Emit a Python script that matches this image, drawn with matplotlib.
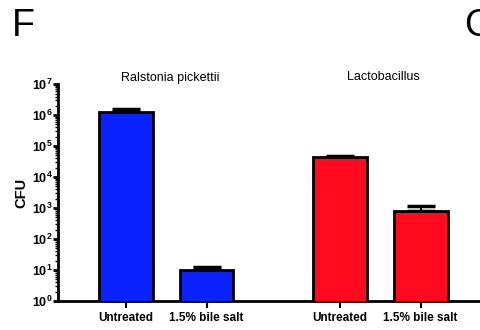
import numpy as np
import matplotlib
matplotlib.use("Agg")
import matplotlib.pyplot as plt
from matplotlib.ticker import LogLocator, FixedLocator, FuncFormatter

plt.rcParams["font.family"] = ["Liberation Sans", "DejaVu Sans"]
plt.rcParams["mathtext.fontset"] = "custom"
plt.rcParams["mathtext.rm"] = "Liberation Sans"
plt.rcParams["mathtext.bf"] = "Liberation Sans:bold"

# CFU counts per condition
groups = ["Ralstonia pickettii", "Lactobacillus"]
conditions = ["Untreated", "1.5% bile salt", "Untreated", "1.5% bile salt"]
cfu_mean = [1.25e6, 10, 4.4e4, 800]
cfu_err = [0.35e6, 2.5, 0.5e4, 350]
bar_colors = ["#0a22ff", "#0a22ff", "#ff0a1e", "#ff0a1e"]

positions = [0, 1, 2.66, 3.66]

fig = plt.figure(figsize=(4.81, 3.30), dpi=100)
ax = fig.add_axes([0.1206, 0.0879, 0.8794, 0.657])

ax.bar(positions, cfu_mean, width=0.67, color=bar_colors,
       edgecolor="black", linewidth=2, zorder=3)
ax.errorbar(positions, cfu_mean, yerr=[np.zeros(4), cfu_err], fmt="none",
            ecolor="black", elinewidth=1.5, capsize=10, capthick=2.5, zorder=2)

ax.set_yscale("log")
ax.set_ylim(1, 1e7)
ax.set_xlim(-0.845, 4.41)
ax.yaxis.set_major_locator(LogLocator(base=10, numticks=10))
ax.yaxis.set_minor_locator(LogLocator(base=10, subs=np.arange(2, 10), numticks=10))
ax.yaxis.set_major_formatter(
    FuncFormatter(lambda v, p: r"$\mathbf{10^{%d}}$" % round(np.log10(v))))
ax.xaxis.set_major_locator(FixedLocator(positions))
ax.set_xticklabels(conditions, fontweight="bold", fontsize=8.5)

for side in ["top", "right"]:
    ax.spines[side].set_visible(False)
for side in ["left", "bottom"]:
    ax.spines[side].set_linewidth(2)

ax.tick_params(axis="y", which="major", length=3.5, width=2, labelsize=9, pad=0.5)
ax.tick_params(axis="y", which="minor", length=2, width=1)
ax.tick_params(axis="x", length=5, width=1.5, pad=3)

ax.set_ylabel("CFU", fontweight="bold", fontsize=10.5, labelpad=2)

fig.text(170 / 481, 1 - 78 / 330, groups[0], ha="center", va="center", fontsize=9)
fig.text(383 / 481, 1 - 77 / 330, groups[1], ha="center", va="center", fontsize=9)

fig.text(12 / 481, 1 - 26 / 330, "F", ha="left", va="center", fontsize=27)
fig.text(464 / 481, 1 - 26 / 330, "G", ha="left", va="center", fontsize=27)

plt.savefig("out.png", dpi=100)
